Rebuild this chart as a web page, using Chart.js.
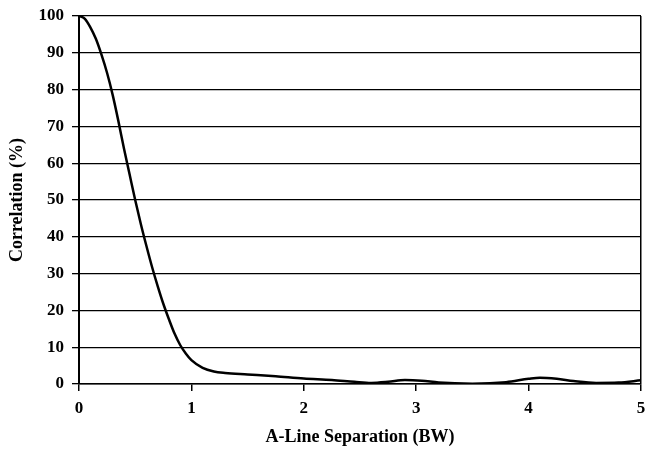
<!DOCTYPE html>
<html>
<head>
<meta charset="utf-8">
<script src="https://cdn.jsdelivr.net/npm/chart.js@4/dist/chart.umd.min.js"></script>
<style>
  html, body { margin: 0; padding: 0; background: #fff; }
  #chart { display: block; }
</style>
</head>
<body>
<canvas id="chart" width="645" height="460"></canvas>
<script>
// A-line separation (BW) and correlation (%)
const separation = [0, 0.05, 0.1, 0.15, 0.2, 0.25, 0.3, 0.35, 0.4, 0.45, 0.5, 0.55, 0.6, 0.65, 0.7, 0.75, 0.8, 0.85, 0.9, 0.95, 1.0, 1.1, 1.2, 1.3, 1.5, 1.75, 2.0, 2.25, 2.45, 2.6, 2.75, 2.9, 3.05, 3.2, 3.5, 3.8, 4.0, 4.1, 4.25, 4.4, 4.6, 4.8, 5.0];
const correlation = [100, 99.3, 97, 93.8, 89.5, 84.5, 78.5, 71.5, 64, 57, 50, 43.5, 37.5, 31.8, 26.6, 21.8, 17.6, 13.7, 10.6, 8.3, 6.5, 4.4, 3.4, 3.0, 2.6, 2.1, 1.5, 1.1, 0.6, 0.3, 0.6, 1.1, 0.9, 0.4, 0.1, 0.5, 1.4, 1.7, 1.4, 0.8, 0.3, 0.4, 1.0];

const xTicks = [0, 1, 2, 3, 4, 5];
const yTicks = [0, 10, 20, 30, 40, 50, 60, 70, 80, 90, 100];

const serif = "'Liberation Serif', 'Times New Roman', serif";

const points = separation.map((x, i) => ({ x: x, y: correlation[i] }));

new Chart(document.getElementById('chart'), {
    type: 'line',
    data: {
        datasets: [
            {
                data: points,
                borderColor: '#000',
                borderWidth: 2.5,
                pointRadius: 0,
                fill: false,
                cubicInterpolationMode: 'monotone',
            },
        ],
    },
    options: {
        responsive: false,
        animation: false,
        layout: { padding: { top: 16, right: 4, bottom: 0, left: 0 } },
        plugins: {
            legend: { display: false },
            tooltip: { enabled: false },
        },
        scales: {
            x: {
                type: 'linear',
                min: 0,
                max: 5,
                afterBuildTicks: (scale) => { scale.ticks = xTicks.map(v => ({ value: v })); },
                afterFit: (scale) => {
                    scale.height = 76;
                    scale.paddingLeft = 0;
                    scale.paddingRight = 0;
                },
                border: { color: '#000', width: 1.5 },
                grid: {
                    drawOnChartArea: true,
                    // only the right edge gets a line in the plot
                    color: (ctx) => (ctx.tick && ctx.tick.value === 5 ? '#000' : 'rgba(0,0,0,0)'),
                    tickColor: '#000',
                    tickLength: 7,
                    lineWidth: 1.5,
                },
                ticks: {
                    color: '#000',
                    padding: 7,
                    maxRotation: 0,
                    font: { family: serif, size: 17, weight: 'bold' },
                },
                title: {
                    display: true,
                    text: 'A-Line Separation (BW)',
                    color: '#000',
                    padding: { top: 0, bottom: 12 },
                    font: { family: serif, size: 18, weight: 'bold' },
                },
            },
            y: {
                min: 0,
                max: 100,
                afterBuildTicks: (scale) => { scale.ticks = yTicks.map(v => ({ value: v })); },
                afterFit: (scale) => {
                    scale.width = 79;
                    scale.paddingTop = 0;
                    scale.paddingBottom = 0;
                },
                border: { color: '#000', width: 2 },
                grid: {
                    color: '#000',
                    lineWidth: 1.3,
                    tickLength: 7,
                },
                ticks: {
                    color: '#000',
                    padding: 8,
                    font: { family: serif, size: 17, weight: 'bold' },
                },
                title: {
                    display: true,
                    text: 'Correlation (%)',
                    color: '#000',
                    padding: { top: 7, bottom: 0 },
                    font: { family: serif, size: 18, weight: 'bold' },
                },
            },
        },
    },
});
</script>
</body>
</html>
